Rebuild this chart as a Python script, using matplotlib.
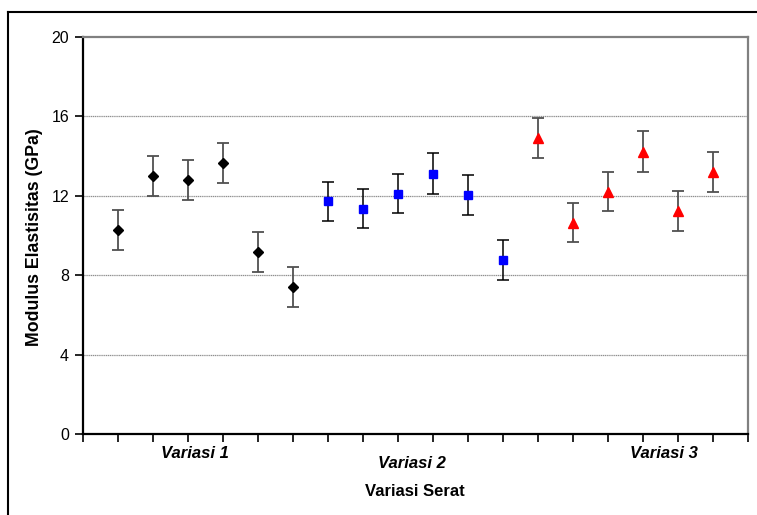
import numpy as np
import matplotlib
matplotlib.use('Agg')
import matplotlib.pyplot as plt
from matplotlib.lines import Line2D

plt.rcParams['font.family'] = ['Liberation Sans', 'DejaVu Sans']

## Data (GPa)
variasi1_mean = [10.28, 13.0, 12.78, 13.67, 9.17, 7.42]
variasi1_err = [1.0, 1.03, 1.0, 1.0, 1.03, 1.0]
variasi2_mean = [11.72, 11.35, 12.11, 13.11, 12.04, 8.77]
variasi2_err = [0.98, 0.97, 1.0, 1.03, 1.02, 1.0]
variasi3_mean = [14.9, 10.65, 12.21, 14.22, 11.22, 13.21]
variasi3_err = [1.0, 1.0, 1.0, 1.03, 1.0, 1.0]
group_labels = ['Variasi 1', 'Variasi 2', 'Variasi 3']
y_ticks = [0, 4, 8, 12, 16, 20]

fig = plt.figure(figsize=(7.57, 5.15), dpi=100)
ax = fig.add_axes([83/757, 1 - 434/515, 665/757, 397/515])

x1 = np.arange(1, 7)
x2 = np.arange(7, 13)
x3 = np.arange(13, 19)

ax.errorbar(x1, variasi1_mean, yerr=variasi1_err, fmt='D', color='black', ms=5.5,
            ecolor='#505050', elinewidth=1.3, capsize=4, capthick=1.3, zorder=3)
ax.errorbar(x2, variasi2_mean, yerr=variasi2_err, fmt='s', color='#0000ff', ms=6,
            ecolor='black', elinewidth=1.1, capsize=4, capthick=1.1, zorder=3)
ax.errorbar(x3, variasi3_mean, yerr=variasi3_err, fmt='^', color='#ff0000', ms=7,
            ecolor='#505050', elinewidth=1.3, capsize=4, capthick=1.3, zorder=3)

ax.set_xlim(0, 19)
ax.set_ylim(0, 20)
ax.set_yticks(y_ticks)
ax.set_yticklabels([str(t) for t in y_ticks], fontsize=11.5)
ax.set_xticks(np.arange(0, 20))
ax.set_xticklabels([])
ax.tick_params(axis='both', direction='out', length=6, width=1.2, color='black')
ax.tick_params(axis='y', pad=4)

for yv in [4, 8, 12, 16]:
    ax.axhline(yv, color='#909090', lw=0.9, ls=(0, (1, 0.5)), zorder=1)

for side in ['left', 'bottom']:
    ax.spines[side].set_color('black')
    ax.spines[side].set_linewidth(1.6)
for side in ['top', 'right']:
    ax.spines[side].set_color('#808080')
    ax.spines[side].set_linewidth(1.6)

## group labels under the axis (x in data units, y in pixels from top)
label_x = [3.2, 9.4, 16.6]
label_y = [453, 463, 454]
for lab, lx, ly in zip(group_labels, label_x, label_y):
    fig.text((83 + lx * 35) / 757, 1 - ly / 515, lab, fontsize=12, fontweight='bold',
             fontstyle='italic', ha='center', va='center')

fig.text(415/757, 1 - 492/515, 'Variasi Serat', fontsize=12, fontweight='bold',
         ha='center', va='center')
fig.text(35/757, 1 - 237/515, 'Modulus Elastisitas (GPa)', fontsize=12.8, fontweight='bold',
         rotation=90, ha='center', va='center')

## outer chart border (runs off right and bottom)
fig.add_artist(Line2D([8/757, 8/757], [0, 1 - 12/515], transform=fig.transFigure,
                      color='black', lw=1.5))
fig.add_artist(Line2D([8/757, 1], [1 - 12/515, 1 - 12/515], transform=fig.transFigure,
                      color='black', lw=1.5))

fig.savefig('out.png', dpi=100)
